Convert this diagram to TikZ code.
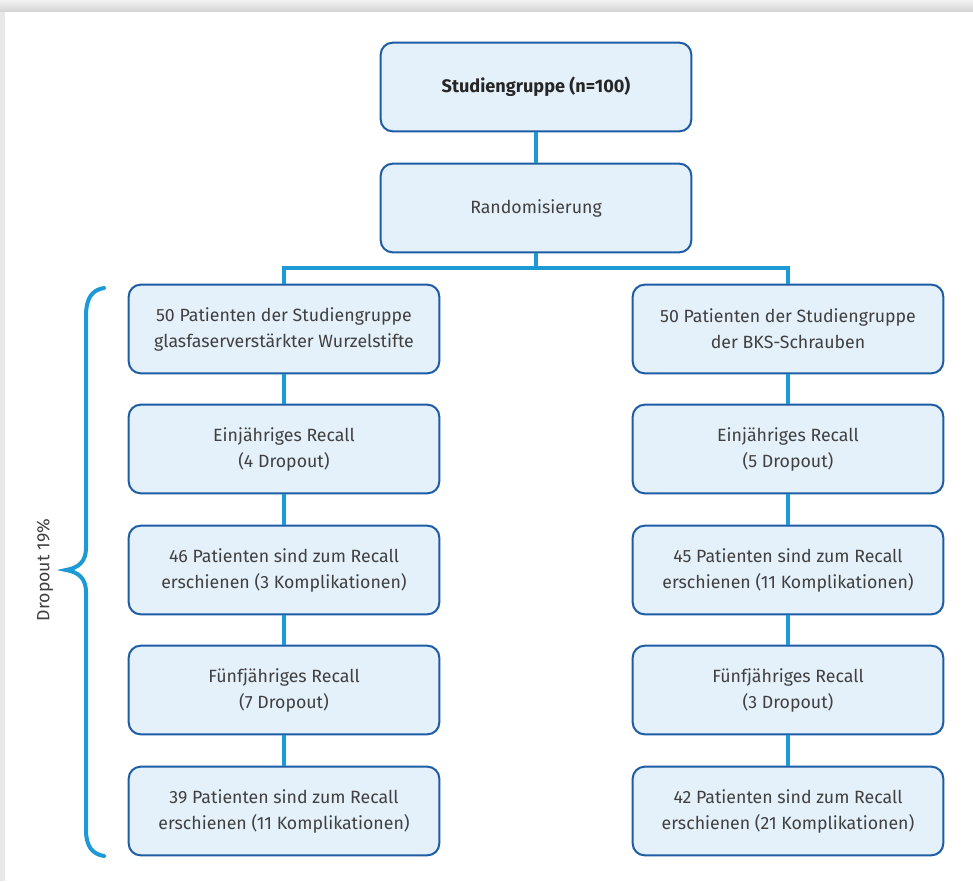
\documentclass[tikz,border=0pt]{standalone}
\usepackage{fontspec}
\setmainfont{Fira Sans}
\definecolor{boxfill}{HTML}{E4F1FA}
\definecolor{boxdraw}{HTML}{1F5CA6}
\definecolor{conn}{HTML}{1B9AD6}
\definecolor{txt}{HTML}{404040}
\tikzset{
  stepbox/.style={draw=boxdraw, fill=boxfill, line width=1.5pt, rounded corners=9pt,
    minimum width=233pt, minimum height=66.5pt, align=center, text=txt,
    font=\fontsize{13.3}{19.5}\selectfont, inner sep=0pt},
  link/.style={draw=conn, line width=2.6pt},
}
\begin{document}
\begin{tikzpicture}[x=0.75pt,y=-0.75pt]
\useasboundingbox (0,0) rectangle (973,881);
\fill[gray!18] (0,0) rectangle (973,881);
\shade[top color=gray!10, bottom color=gray!35] (0,0) rectangle (973,12);
\fill[white] (5,12) rectangle (973,881);

\node[stepbox, font=\fontsize{13.6}{19.5}\selectfont\bfseries, text=black!85] (top) at (536,87) {Studiengruppe (n=100)};
\node[stepbox] (rand) at (536,208) {Randomisierung};

\node[stepbox] (l1) at (284,329) {50 Patienten der Studiengruppe\\glasfaserverstärkter Wurzelstifte};
\node[stepbox] (l2) at (284,449) {Einjähriges Recall\\(4 Dropout)};
\node[stepbox] (l3) at (284,570) {46 Patienten sind zum Recall\\erschienen (3 Komplikationen)};
\node[stepbox] (l4) at (284,690) {Fünfjähriges Recall\\(7 Dropout)};
\node[stepbox] (l5) at (284,811) {39 Patienten sind zum Recall\\erschienen (11 Komplikationen)};

\node[stepbox] (r1) at (788,329) {50 Patienten der Studiengruppe\\der BKS-Schrauben};
\node[stepbox] (r2) at (788,449) {Einjähriges Recall\\(5 Dropout)};
\node[stepbox] (r3) at (788,570) {45 Patienten sind zum Recall\\erschienen (11 Komplikationen)};
\node[stepbox] (r4) at (788,690) {Fünfjähriges Recall\\(3 Dropout)};
\node[stepbox] (r5) at (788,811) {42 Patienten sind zum Recall\\erschienen (21 Komplikationen)};

\coordinate (split) at (536,268);
\draw[link] (top) -- (rand);
\draw[link] (rand.south) -- (split);
\draw[link] (split) -| (l1.north);
\draw[link] (split) -| (r1.north);
\foreach \a/\b in {l1/l2,l2/l3,l3/l4,l4/l5,r1/r2,r2/r3,r3/r4,r4/r5}
  \draw[link] (\a) -- (\b);

% brace
\draw[draw=conn, line width=3pt, line cap=round]
  (104,288) .. controls (92,290) and (86,298) .. (86,316)
  -- (86,548) .. controls (86,562) and (78,568) .. (66,570)
  .. controls (78,572) and (86,578) .. (86,592)
  -- (86,830) .. controls (86,846) and (92,854) .. (104,856);
\node[rotate=90, text=txt, font=\fontsize{13.3}{15}\selectfont] (lab) at (45,570) {Dropout 19\%};
\end{tikzpicture}
\end{document}
